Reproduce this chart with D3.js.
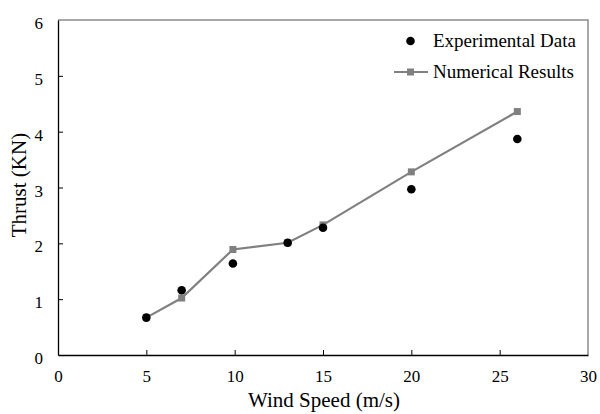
<!DOCTYPE html>
<html><head><meta charset="utf-8">
<script src="https://cdn.jsdelivr.net/npm/d3@7"></script>
<style>body{margin:0;background:#fff;} text{font-family:"Liberation Serif","Times New Roman",serif;}</style>
</head><body>
<svg id="c" width="600" height="414"></svg>
<script>
const expSpeed = [5, 7, 9.9, 13, 15, 20, 26];
const expThrust = [0.67, 1.16, 1.64, 2.01, 2.28, 2.97, 3.87];
const numSpeed = [5, 7, 9.9, 13, 15, 20, 26];
const numThrust = [0.67, 1.02, 1.89, 2.01, 2.33, 3.28, 4.36];
const xTicks = [0, 5, 10, 15, 20, 25, 30];
const yTicks = [0, 1, 2, 3, 4, 5, 6];

const svg = d3.select("#c");
const L = 58, R = 588, T = 20, B = 355;
const x = d3.scaleLinear().domain([0, 30]).range([L, R]);
const y = d3.scaleLinear().domain([0, 6]).range([B, T]);

svg.append("path").attr("d", `M${L},${T}H${R}V${B}`).attr("fill","none").attr("stroke","#8c8c8c").attr("stroke-width",1.5);

const xAxis = svg.append("g").attr("transform",`translate(0,${B})`)
  .call(d3.axisBottom(x).tickValues(xTicks).tickFormat(d3.format("d")).tickSizeInner(-5).tickSizeOuter(0).tickPadding(15));
const yAxis = svg.append("g").attr("transform",`translate(${L},0)`)
  .call(d3.axisLeft(y).tickValues(yTicks).tickFormat(d3.format("d")).tickSizeInner(-5).tickSizeOuter(0).tickPadding(15));
[xAxis, yAxis].forEach(a => {
  a.select(".domain").attr("stroke","#000").attr("stroke-width",1.3);
  a.selectAll(".tick line").attr("stroke","#000");
  a.selectAll(".tick text").attr("font-size",17).attr("font-family","Liberation Serif").attr("fill","#000");
});
yAxis.selectAll(".tick text").attr("dy","0.5em");
xAxis.selectAll(".tick line").filter(d => d === 0 || d === 30).remove();
yAxis.selectAll(".tick line").filter(d => d === 0 || d === 6).remove();

svg.append("text").attr("x", 324).attr("y", 407).attr("text-anchor","middle")
  .attr("font-size",21).text("Wind Speed (m/s)");
svg.append("text").attr("transform", `translate(26,185) rotate(-90)`).attr("text-anchor","middle")
  .attr("font-size",21).text("Thrust (KN)");

const numData = numSpeed.map((s,i)=>[s,numThrust[i]]);
const expData = expSpeed.map((s,i)=>[s,expThrust[i]]);
const gray = "#808080";
svg.append("path").datum(numData)
  .attr("d", d3.line().x(d=>x(d[0])).y(d=>y(d[1])))
  .attr("fill","none").attr("stroke",gray).attr("stroke-width",2.2);
svg.selectAll(".sq").data(numData).join("rect")
  .attr("x", d=>x(d[0])-3.5).attr("y", d=>y(d[1])-3.5).attr("width",7).attr("height",7).attr("fill",gray);
svg.selectAll(".ci").data(expData).join("circle")
  .attr("cx", d=>x(d[0])).attr("cy", d=>y(d[1])).attr("r",4.3).attr("fill","#000");

const lg = svg.append("g");
lg.append("circle").attr("cx",410.5).attr("cy",41).attr("r",4.3).attr("fill","#000");
lg.append("text").attr("x",433).attr("y",47).attr("font-size",19).text("Experimental Data");
lg.append("line").attr("x1",394).attr("x2",428).attr("y1",72).attr("y2",72).attr("stroke",gray).attr("stroke-width",2.2);
lg.append("rect").attr("x",407).attr("y",68.5).attr("width",7).attr("height",7).attr("fill",gray);
lg.append("text").attr("x",433).attr("y",78).attr("font-size",19).text("Numerical Results");
</script>
</body></html>
